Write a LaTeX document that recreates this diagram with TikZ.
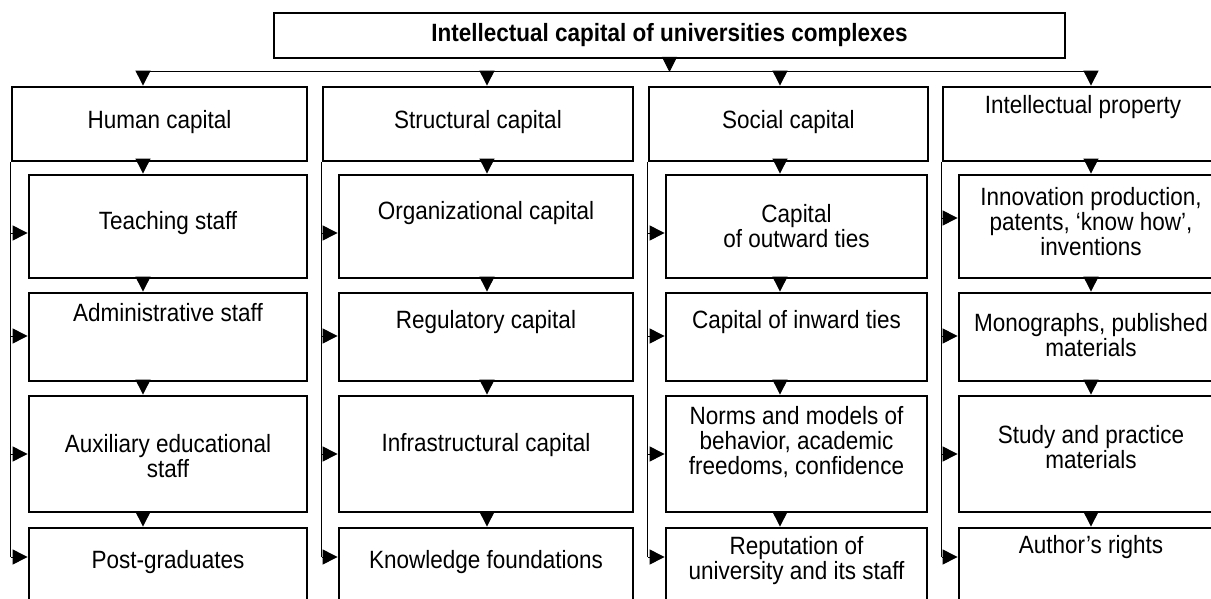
\documentclass[tikz,border=0pt]{standalone}
\usepackage{fontspec}
\newfontfamily\diagfont[FakeStretch=0.9]{Liberation Sans}
\usetikzlibrary{arrows.meta}

\begin{document}
\begin{tikzpicture}[
  x=1pt, y=-1pt,
  font=\diagfont\fontsize{25}{25}\selectfont,
  box/.style={draw, line width=2.8pt, inner sep=0pt},
  arrow/.style={-{Triangle[length=15pt,width=15pt]}, line width=1pt},
  wire/.style={line width=1pt},
  every label/.style={align=center, inner sep=0pt},
  head/.style={minimum height=74pt},
  row1/.style={minimum height=103pt},
  row2/.style={minimum height=88pt},
  row3/.style={minimum height=116pt},
  row4/.style={minimum height=82pt},
  colH/.style={minimum width=278pt},
  colS/.style={minimum width=294pt},
  colC/.style={minimum width=261pt},
  colI/.style={minimum width=264pt}
]
\useasboundingbox (0,0) rectangle (1211,599);

\node[box, minimum width=791pt, minimum height=45pt] (top) at (669.5,35.5) {\bfseries Intellectual capital of universities complexes};

% first level
\node[box, head, minimum width=295pt, label={[yshift=2pt]center:Human capital}] (hum) at (159.5,124) {};
\node[box, head, minimum width=310pt, label={[yshift=2pt]center:Structural capital}] (str) at (478,124) {};
\node[box, head, minimum width=279pt, label={[yshift=2pt]center:Social capital}] (soc) at (788.5,124) {};
\node[box, head, minimum width=280pt, label={[yshift=17pt]center:Intellectual property}] (ipr) at (1083,124) {};

% human capital
\node[box, colH, row1, label={[yshift=3.5pt]center:Teaching staff}] (hum1) at (168,226.5) {};
\node[box, colH, row2, label={[yshift=24pt]center:Administrative staff}] (hum2) at (168,337) {};
\node[box, colH, row3, label={[yshift=-2pt]center:{Auxiliary educational\\staff}}] (hum3) at (168,454) {};
\node[box, colH, row4, label={[yshift=7pt]center:Post-graduates}] (hum4) at (168,569) {};

% structural capital
\node[box, colS, row1, label={[yshift=13.5pt]center:Organizational capital}] (str1) at (486,226.5) {};
\node[box, colS, row2, label={[yshift=15pt]center:Regulatory capital}] (str2) at (486,337) {};
\node[box, colS, row3, label={[yshift=9pt]center:Infrastructural capital}] (str3) at (486,454) {};
\node[box, colS, row4, label={[yshift=7pt]center:Knowledge foundations}] (str4) at (486,569) {};

% social capital
\node[box, colC, row1, label={center:{Capital\\of outward ties}}] (soc1) at (796.5,226.5) {};
\node[box, colC, row2, label={[yshift=15pt]center:Capital of inward ties}] (soc2) at (796.5,337) {};
\node[box, colC, row3, label={[yshift=12pt]center:{Norms and models of\\behavior, academic\\freedoms, confidence}}] (soc3) at (796.5,454) {};
\node[box, colC, row4, label={[yshift=8.5pt]center:{Reputation of\\university and its staff}}] (soc4) at (796.5,569) {};

% intellectual property
\node[box, colI, row1, label={[yshift=4.5pt]center:{Innovation production,\\patents, ‘know how’,\\inventions}}] (ipr1) at (1091,226.5) {};
\node[box, colI, row2, label={[yshift=1.5pt]center:{Monographs, published\\materials}}] (ipr2) at (1091,337) {};
\node[box, colI, row3, label={[yshift=6.5pt]center:{Study and practice\\materials}}] (ipr3) at (1091,454) {};
\node[box, colI, row4, label={[yshift=22pt]center:Author’s rights}] (ipr4) at (1091,569) {};

% distribution line
\coordinate (tH) at (143,72);
\coordinate (tS) at (487,72);
\coordinate (tC) at (780,72);
\coordinate (tI) at (1091,72);
\coordinate (y0) at (0,218);
\coordinate (y1) at (0,233);
\coordinate (y2) at (0,336);
\coordinate (y3) at (0,454);
\coordinate (y4) at (0,557);

\draw[wire] (tH) -- (tI);
\draw[arrow] (top) -- (top |- tH);
\path[arrow] (tH) edge (tH |- hum.north)
  (tS) edge (tS |- str.north)
  (tC) edge (tC |- soc.north)
  (tI) edge (tI |- ipr.north);

% arrows down each column
\path[arrow] (hum.south -| tH) edge (hum1.north -| tH)
  (hum1.south -| tH) edge (hum2.north -| tH)
  (hum2.south -| tH) edge (hum3.north -| tH)
  (hum3.south -| tH) edge (hum4.north -| tH);
\path[arrow] (str.south -| tS) edge (str1.north -| tS)
  (str1.south -| tS) edge (str2.north -| tS)
  (str2.south -| tS) edge (str3.north -| tS)
  (str3.south -| tS) edge (str4.north -| tS);
\path[arrow] (soc.south -| tC) edge (soc1.north -| tC)
  (soc1.south -| tC) edge (soc2.north -| tC)
  (soc2.south -| tC) edge (soc3.north -| tC)
  (soc3.south -| tC) edge (soc4.north -| tC);
\path[arrow] (ipr.south -| tI) edge (ipr1.north -| tI)
  (ipr1.south -| tI) edge (ipr2.north -| tI)
  (ipr2.south -| tI) edge (ipr3.north -| tI)
  (ipr3.south -| tI) edge (ipr4.north -| tI);

% side buses
\draw[wire] (hum.south west) -- (hum.south west |- y4);
\draw[wire] (str.south west) -- (str.south west |- y4);
\draw[wire] (soc.south west) -- (soc.south west |- y4);
\draw[wire] (ipr.south west) -- (ipr.south west |- y4);
\path[arrow] (hum.west |- y1) edge (hum1.west |- y1)
  (hum.west |- y2) edge (hum2.west |- y2)
  (hum.west |- y3) edge (hum3.west |- y3)
  (hum.west |- y4) edge (hum4.west |- y4);
\path[arrow] (str.west |- y1) edge (str1.west |- y1)
  (str.west |- y2) edge (str2.west |- y2)
  (str.west |- y3) edge (str3.west |- y3)
  (str.west |- y4) edge (str4.west |- y4);
\path[arrow] (soc.west |- y1) edge (soc1.west |- y1)
  (soc.west |- y2) edge (soc2.west |- y2)
  (soc.west |- y3) edge (soc3.west |- y3)
  (soc.west |- y4) edge (soc4.west |- y4);
\path[arrow] (ipr.west |- y0) edge (ipr1.west |- y0)
  (ipr.west |- y2) edge (ipr2.west |- y2)
  (ipr.west |- y3) edge (ipr3.west |- y3)
  (ipr.west |- y4) edge (ipr4.west |- y4);
\end{tikzpicture}
\end{document}
